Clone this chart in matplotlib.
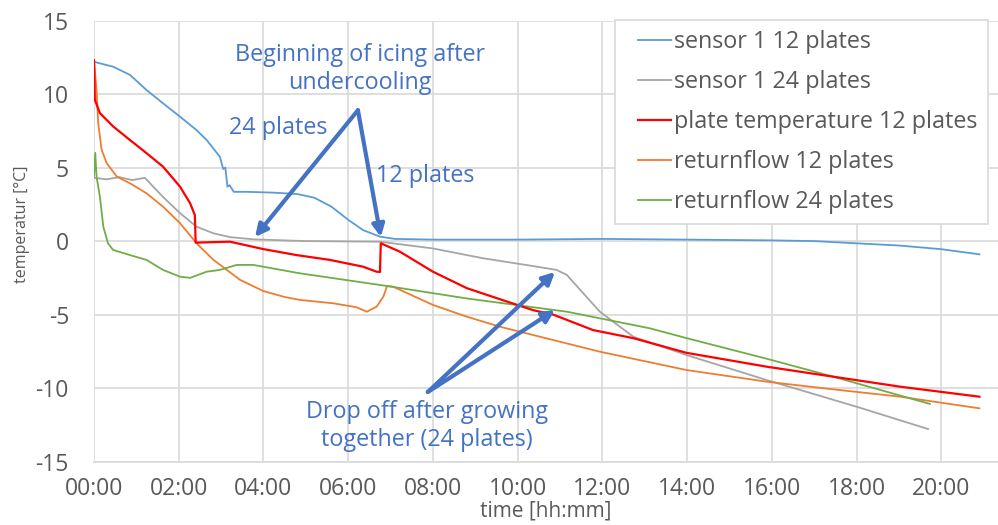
import matplotlib
matplotlib.use("Agg")
import matplotlib.pyplot as plt
from matplotlib.lines import Line2D
from matplotlib.legend_handler import HandlerLine2D
from matplotlib.ticker import FuncFormatter, MultipleLocator

plt.rcParams["font.family"] = ["Open Sans", "DejaVu Sans"]

# time in hours, temperatures in degC
t_s12 = [0, 0.12, 0.45, 0.85, 1.24, 1.63, 2.03, 2.42, 2.66, 2.97, 3.05, 3.1, 3.15, 3.2, 3.3,
         3.6, 4.2, 4.8, 5.2, 5.6, 6.0, 6.35, 6.75, 7.1, 8, 10, 12, 14, 16, 17, 18, 19, 20, 20.9]
sensor_12 = [12.2, 12.1, 11.86, 11.3, 10.27, 9.37, 8.46, 7.55, 6.87, 5.74, 4.9, 5.0, 3.7, 3.8, 3.35,
             3.35, 3.3, 3.2, 2.95, 2.35, 1.45, 0.75, 0.3, 0.15, 0.1, 0.1, 0.15, 0.1, 0.05, 0.0,
             -0.15, -0.3, -0.55, -0.9]

t_s24 = [0, 0.3, 0.6, 0.9, 1.2, 1.63, 2.03, 2.42, 2.82, 3.21, 3.76, 5.0, 6.75, 8.0, 9.19,
         10.37, 10.92, 11.16, 11.55, 11.94, 12.73, 13.99, 15.88, 18.0, 19.69]
sensor_24 = [4.3, 4.2, 4.35, 4.15, 4.3, 3.0, 1.9, 0.98, 0.53, 0.27, 0.12, 0.0, -0.04, -0.5, -1.17,
             -1.7, -1.96, -2.3, -3.55, -4.8, -6.5, -7.75, -9.45, -11.26, -12.78]

t_plate = [0, 0.02, 0.14, 0.45, 0.85, 1.24, 1.63, 2.03, 2.27, 2.38, 2.4, 2.45, 3.21, 3.99,
           4.78, 5.57, 6.35, 6.67, 6.75, 6.77, 7.22, 8.0, 8.8, 9.58, 10.37, 10.84, 11.78,
           12.73, 13.99, 15.88, 17.45, 19.03, 20.9]
plate_12 = [12.3, 9.6, 8.7, 7.8, 6.87, 5.98, 5.06, 3.7, 2.57, 1.77, -0.1, -0.1, -0.04, -0.54,
            -0.95, -1.28, -1.74, -2.08, -2.1, -0.15, -0.72, -2.08, -3.2, -3.95, -4.7, -5.0, -6.05,
            -6.6, -7.6, -8.54, -9.22, -9.9, -10.58]

t_r12 = [0, 0.06, 0.1, 0.18, 0.3, 0.54, 0.85, 1.24, 1.63, 2.03, 2.42, 2.82, 3.45, 4.0, 4.5,
         4.86, 5.65, 6.2, 6.44, 6.67, 6.83, 6.92, 7.06, 8.0, 8.8, 9.58, 11.94, 13.99, 15.88,
         17.45, 19.03, 20.9]
return_12 = [12.3, 10.27, 8.0, 6.2, 5.3, 4.38, 3.93, 3.25, 2.34, 1.22, -0.15, -1.28, -2.64, -3.4,
             -3.8, -4.0, -4.23, -4.5, -4.8, -4.46, -3.78, -3.05, -3.1, -4.34, -5.14, -5.82, -7.52,
             -8.77, -9.56, -10.08, -10.58, -11.37]

t_r24 = [0, 0.03, 0.06, 0.14, 0.22, 0.33, 0.45, 0.85, 1.24, 1.63, 2.03, 2.27, 2.66, 2.97,
         3.37, 3.76, 4.86, 6.91, 8.8, 11.16, 13.12, 13.99, 15.88, 17.45, 19.73]
return_24 = [4.4, 6.0, 4.4, 3.0, 0.98, -0.15, -0.6, -0.95, -1.28, -1.96, -2.42, -2.5, -2.08,
             -1.96, -1.62, -1.62, -2.19, -3.05, -3.9, -4.8, -5.93, -6.6, -8.0, -9.22, -11.07]

labels = ["sensor 1 12 plates", "sensor 1 24 plates", "plate temperature 12 plates",
          "returnflow 12 plates", "returnflow 24 plates"]
colors = ["#5B9BD5", "#A5A5A5", "#FF0000", "#ED7D31", "#70AD47"]

TXT = "#595959"
ANN = "#4472C4"
GRID = "#D9D9D9"

fig = plt.figure(figsize=(9.98, 5.25), dpi=100)
ax = fig.add_axes([94 / 998, 1 - 461.7 / 525, 1 - 94 / 998, (461.7 - 20.5) / 525])

series = [(t_s12, sensor_12), (t_s24, sensor_24), (t_plate, plate_12),
          (t_r12, return_12), (t_r24, return_24)]
order = [1, 0, 3, 4, 2]  # red ends up on top, as in the reference
lines = {}
for i in order:
    t, y = series[i]
    lw = 1.6 if i == 2 else 1.3
    lines[i], = ax.plot(t, y, color=colors[i], lw=lw, label=labels[i], zorder=3 + (i == 2))

ax.set_xlim(0, (998 - 94) / 42.365)
ax.set_ylim(-15, 15)
ax.xaxis.set_major_locator(MultipleLocator(2))
ax.yaxis.set_major_locator(MultipleLocator(5))
ax.xaxis.set_major_formatter(FuncFormatter(lambda v, p: "%02d:%02d" % (int(v), round((v % 1) * 60))))
ax.yaxis.set_major_formatter(FuncFormatter(lambda v, p: "%d" % v))
ax.grid(True, color=GRID, lw=1.2, zorder=0)
ax.set_axisbelow(True)
for s in ["top", "right", "left"]:
    ax.spines[s].set_visible(False)
ax.spines["bottom"].set_color(GRID)
ax.spines["bottom"].set_linewidth(1.2)
ax.tick_params(length=0, labelsize=16.5, labelcolor=TXT)
ax.tick_params(axis="y", pad=18)
ax.tick_params(axis="x", pad=11)

ax.set_xlabel("time [hh:mm]", fontsize=15, color=TXT, labelpad=0)
ax.set_ylabel("temperatur [°C]", fontsize=11.5, color=TXT, va="center")
ax.yaxis.set_label_coords((22 - 94) / 904, (461.7 - 224) / 441.2)

leg = ax.legend([lines[i] for i in range(5)], labels, loc="upper left",
                bbox_to_anchor=(615 / 998, 1 - 20 / 525), bbox_transform=fig.transFigure,
                fontsize=16.8, frameon=True, fancybox=False, framealpha=1, edgecolor=GRID,
                handlelength=1.95, handletextpad=0.12, labelspacing=0.68, borderpad=0.45,
                borderaxespad=0, handler_map={Line2D: HandlerLine2D(xpad=0.53)})
for txt in leg.get_texts():
    txt.set_color(TXT)
leg.get_frame().set_linewidth(1.2)
leg.set_zorder(10)

arrow = dict(arrowstyle="-|>", color=ANN, lw=3, mutation_scale=18, shrinkA=0, shrinkB=0)
apex = (6.23, 8.9)
ax.annotate("", xy=(3.8, 0.28), xytext=apex, arrowprops=arrow, zorder=5)
ax.annotate("", xy=(6.77, 0.28), xytext=apex, arrowprops=arrow, zorder=5)
tail = (7.88, -10.26)
ax.annotate("", xy=(10.88, -2.1), xytext=tail, arrowprops=arrow, zorder=5)
ax.annotate("", xy=(10.88, -4.69), xytext=tail, arrowprops=arrow, zorder=5)

tf = dict(color=ANN, fontsize=16.8, ha="center", va="center", linespacing=1.22, zorder=6)
ax.text(6.28, 11.7, "Beginning of icing after\nundercooling", **tf)
ax.text(4.34, 7.69, "24 plates", **tf)
ax.text(7.81, 4.43, "12 plates", **tf)
ax.text(7.86, -12.54, "Drop off after growing\ntogether (24 plates)", **tf)

fig.savefig("out.png", dpi=100)
